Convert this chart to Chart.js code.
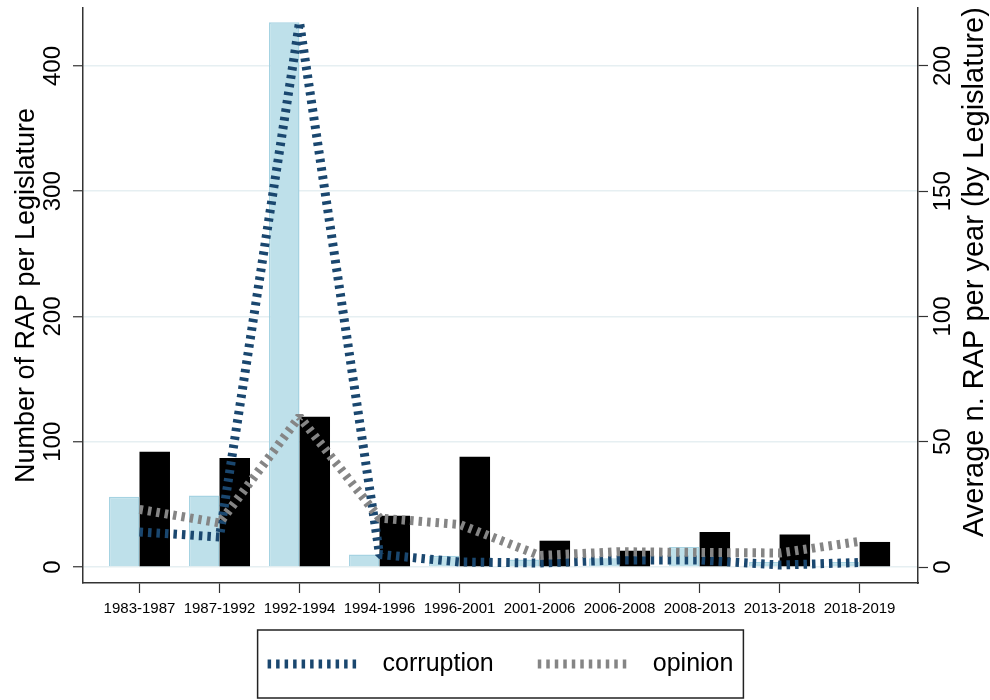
<!DOCTYPE html>
<html>
<head>
<meta charset="utf-8">
<script src="https://cdn.jsdelivr.net/npm/chart.js@4/dist/chart.umd.min.js"></script>
<style>
  html, body { margin: 0; padding: 0; background: #fff; }
  canvas { display: block; }
</style>
</head>
<body>
<canvas id="rap" width="990" height="700"></canvas>
<script>
// Legislatures
const legislatures = ['1983-1987', '1987-1992', '1992-1994', '1994-1996', '1996-2001',
                      '2001-2006', '2006-2008', '2008-2013', '2013-2018', '2018-2019'];

// Number of RAP per legislature (left axis)
const corruptionTotal = [56, 57, 435, 10, 9, 6, 7, 16, 4, 4];
const opinionTotal    = [92, 87, 120, 41, 88, 21, 13, 28, 26, 20];

// Average number of RAP per year within each legislature (right axis)
const corruptionPerYear = [14, 12, 217.5, 5, 2, 1.6, 2.8, 2.8, 0.8, 1.8];
const opinionPerYear    = [23, 17.6, 60, 19.5, 17, 4.6, 6.1, 5.8, 5.6, 10.2];

// Axis ticks
const leftTicks  = [0, 100, 200, 300, 400];
const rightTicks = [0, 50, 100, 150, 200];

const leftTitle  = 'Number of RAP per Legislature';
const rightTitle = 'Average n. RAP per year (by Legislature)';

const FONT = '"Liberation Sans", Arial, Helvetica, sans-serif';
const toPoints = arr => arr.map((v, i) => ({ x: i, y: v }));

// keep the plot frame fixed: no extra room for overhanging labels
const noPadding = axis => {
  axis.paddingTop = 0; axis.paddingBottom = 0;
  axis.paddingLeft = 0; axis.paddingRight = 0;
};

// Boxed legend with the two dotted series, plus the right-hand axis title
const decorations = {
  id: 'decorations',
  afterDraw(chart) {
    const ctx = chart.ctx;
    const area = chart.chartArea;
    ctx.save();

    // right axis title, reading bottom to top, starting near the axis foot
    const y2 = chart.scales.y2;
    ctx.fillStyle = '#000';
    ctx.font = '29px ' + FONT;
    ctx.textAlign = 'left';
    ctx.textBaseline = 'middle';
    ctx.translate(y2.right - 15, area.bottom - 46);
    ctx.rotate(-Math.PI / 2);
    ctx.fillText(rightTitle, 0, 0);
    ctx.setTransform(1, 0, 0, 1, 0, 0);

    // legend
    const lines = chart.data.datasets.filter(d => d.type === 'line');
    const sample = 93, gapText = 22, gapItem = 44, pad = 10;
    ctx.font = '25px ' + FONT;
    const widths = lines.map(d => ctx.measureText(d.label).width);
    const total = lines.length * (sample + gapText) + widths.reduce((a, b) => a + b, 0)
                + gapItem * (lines.length - 1);
    let x = (area.left + area.right) / 2 - total / 2;
    const top = chart.height - 70, bottom = chart.height - 2;
    const yMid = (top + bottom) / 2;

    ctx.strokeStyle = '#222';
    ctx.lineWidth = 1.5;
    ctx.strokeRect(x - pad, top, total + 2 * pad, bottom - top);

    lines.forEach((d, i) => {
      ctx.setLineDash(d.borderDash);
      ctx.lineWidth = d.borderWidth;
      ctx.strokeStyle = d.borderColor;
      ctx.beginPath();
      ctx.moveTo(x, yMid);
      ctx.lineTo(x + sample, yMid);
      ctx.stroke();
      ctx.setLineDash([]);
      x += sample + gapText;
      ctx.fillStyle = '#000';
      ctx.textAlign = 'left';
      ctx.textBaseline = 'middle';
      ctx.fillText(d.label, x, yMid);
      x += widths[i] + gapItem;
    });
    ctx.restore();
  }
};

new Chart(document.getElementById('rap'), {
  type: 'bar',
  data: {
    datasets: [
      {
        type: 'bar', label: 'corruption (total)', data: toPoints(corruptionTotal),
        backgroundColor: 'rgb(190,224,234)', borderColor: 'rgb(166,211,226)', borderWidth: 1.5,
        yAxisID: 'y', order: 2, categoryPercentage: 0.7625, barPercentage: 1
      },
      {
        type: 'bar', label: 'opinion (total)', data: toPoints(opinionTotal),
        backgroundColor: '#000', borderWidth: 0,
        yAxisID: 'y', order: 2, categoryPercentage: 0.7625, barPercentage: 1
      },
      {
        type: 'line', label: 'corruption', data: toPoints(corruptionPerYear),
        borderColor: '#1a476f', borderWidth: 9, borderDash: [3.5, 5], tension: 0,
        borderJoinStyle: 'bevel', pointRadius: 0, fill: false, yAxisID: 'y2', order: 1
      },
      {
        type: 'line', label: 'opinion', data: toPoints(opinionPerYear),
        borderColor: '#858585', borderWidth: 9, borderDash: [3.5, 5], tension: 0,
        borderJoinStyle: 'bevel', pointRadius: 0, fill: false, yAxisID: 'y2', order: 0
      }
    ]
  },
  options: {
    responsive: false,
    animation: false,
    devicePixelRatio: 1,
    layout: { padding: { top: 8, bottom: 70, left: 0, right: 0 } },
    plugins: { legend: { display: false }, tooltip: { enabled: false } },
    scales: {
      x: {
        type: 'linear', position: 'bottom', min: -0.706, max: 9.73, offset: false,
        afterBuildTicks: axis => { axis.ticks = legislatures.map((_, i) => ({ value: i })); },
        afterFit: axis => { axis.height = 47; noPadding(axis); },
        ticks: {
          callback: v => legislatures[v], autoSkip: false, maxRotation: 0, minRotation: 0,
          color: '#000', font: { family: FONT, size: 15 }, padding: 7
        },
        grid: { offset: false, drawOnChartArea: false, tickLength: 10, tickColor: '#333', tickWidth: 1.2 },
        border: { color: '#333', width: 1.5 }
      },
      y: {
        type: 'linear', position: 'left', min: -12.77, max: 446.3,
        afterBuildTicks: axis => { axis.ticks = leftTicks.map(v => ({ value: v })); },
        afterFit: axis => { axis.width = 83; noPadding(axis); },
        ticks: {
          minRotation: 90, maxRotation: 90, crossAlign: 'center', padding: 0,
          color: '#000', font: { family: FONT, size: 24 }
        },
        grid: { color: '#e6eff2', lineWidth: 1.5, tickLength: 10, tickColor: '#333', tickWidth: 1.2 },
        border: { color: '#333', width: 1.5 },
        title: {
          display: true, text: leftTitle, color: '#000',
          font: { family: FONT, size: 27 }, padding: { top: 10, bottom: 0 }
        }
      },
      y2: {
        type: 'linear', position: 'right', min: -6.385, max: 223.15,
        afterBuildTicks: axis => { axis.ticks = rightTicks.map(v => ({ value: v })); },
        afterFit: axis => { axis.width = 72; noPadding(axis); },
        ticks: {
          minRotation: 90, maxRotation: 90, crossAlign: 'center', padding: -5,
          color: '#000', font: { family: FONT, size: 24 }
        },
        grid: { drawOnChartArea: false, tickLength: 10, tickColor: '#333', tickWidth: 1.2 },
        border: { color: '#333', width: 1.5 }
      }
    }
  },
  plugins: [decorations]
});
</script>
</body>
</html>
